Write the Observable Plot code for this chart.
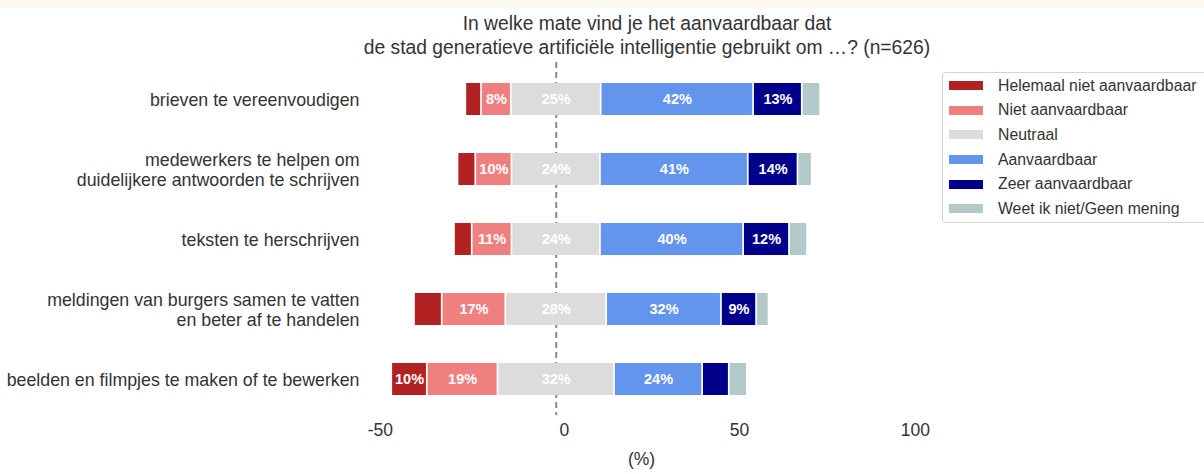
<!DOCTYPE html>
<html>
<head>
<meta charset="utf-8">
<script src="https://cdn.jsdelivr.net/npm/d3@7"></script>
<script src="https://cdn.jsdelivr.net/npm/@observablehq/plot@0.6"></script>
<style>
  body { margin: 0; background: #fff; font-family: "Liberation Sans", Arial, sans-serif; color: #333; }
  #wrap { position: relative; width: 1204px; height: 474px; overflow: hidden; background: #fff; }
  #band { height: 7px; background: #fdf9f0; }
  #title { height: 51px; box-sizing: border-box; padding: 5px 0 0 90px; text-align: center; font-size: 19.3px; line-height: 24px; color: #333; }
  #chart svg { display: block; }
  #legend { position: absolute; left: 942px; top: 72px; width: 290px; height: 151px; box-sizing: border-box;
            border: 1px solid #d4d4d4; border-radius: 4px; background: #fff; padding-top: 0.5px; }
  .item { display: flex; align-items: center; height: 24.6px; font-size: 15.8px; color: #333; white-space: nowrap; }
  .sw { width: 34px; height: 9px; margin-left: 6px; margin-right: 15px; flex: none; }
</style>
</head>
<body>
<div id="wrap">
  <div id="band"></div>
  <div id="title">In welke mate vind je het aanvaardbaar dat<br>de stad generatieve artificiële intelligentie gebruikt om …? (n=626)</div>
  <div id="chart"></div>
  <div id="legend"></div>
</div>
<script>
// ---- data ----
const questions = [
  "brieven te vereenvoudigen",
  "medewerkers te helpen om\nduidelijkere antwoorden te schrijven",
  "teksten te herschrijven",
  "meldingen van burgers samen te vatten\nen beter af te handelen",
  "beelden en filmpjes te maken of te bewerken"
];
const answers = ["Helemaal niet aanvaardbaar", "Niet aanvaardbaar", "Neutraal", "Aanvaardbaar", "Zeer aanvaardbaar", "Weet ik niet/Geen mening"];
const answerColors = ["#b22222", "#f08080", "#dcdcdc", "#6495ed", "#00008b", "#b4c9c9"];

const helemaalNiet = [4.4, 5.0, 5.0, 7.8, 10.0];
const nietAanv     = [8.4, 10.2, 11.2, 17.9, 19.9];
const neutraal     = [25.3, 24.9, 24.9, 28.4, 32.8];
const aanvaardbaar = [42.9, 41.6, 40.3, 32.3, 24.8];
const zeerAanv     = [13.7, 14.0, 12.9, 9.9, 7.5];
const weetNiet     = [5.2, 4.0, 5.1, 3.5, 5.1];

const tickValues = [-49.5, 2.3, 51.6, 101.1];
const tickLabels = ["-50", "0", "50", "100"];
const axisLabel = "(%)";

// ---- build diverging stacks ----
const series = [helemaalNiet, nietAanv, neutraal, aanvaardbaar, zeerAanv, weetNiet];
const segs = [];
questions.forEach((q, i) => {
  let x = -(helemaalNiet[i] + nietAanv[i] + neutraal[i] / 2);
  series.forEach((s, j) => {
    segs.push({q, answer: answers[j], value: s[i], x1: x, x2: x + s[i]});
    x += s[i];
  });
});

const chart = Plot.plot({
  width: 1204,
  height: 416,
  marginTop: 4,
  marginBottom: 59,
  marginLeft: 371,
  marginRight: 293,
  x: {domain: [-52, 100], axis: null},
  y: {domain: questions, axis: null, paddingInner: 0.545, paddingOuter: 0.2725},
  color: {domain: answers, range: answerColors},
  style: {fontFamily: "'Liberation Sans', Arial, sans-serif", background: "transparent", color: "#333"},
  marks: [
    Plot.ruleX([0], {stroke: "#8a8a8a", strokeWidth: 2, strokeDasharray: "6,4"}),
    Plot.barX(segs, {x1: "x1", x2: "x2", y: "q", fill: "answer", insetLeft: 0.85, insetRight: 0.85}),
    Plot.text(segs.filter(d => Math.floor(d.value) >= 8), {
      x: d => (d.x1 + d.x2) / 2, y: "q", text: d => Math.floor(d.value) + "%",
      fill: "white", fontWeight: "bold", fontSize: 14.5
    }),
    Plot.text(questions, {y: d => d, text: d => d, frameAnchor: "left", textAnchor: "end", dx: -12,
      fontSize: 17.8, lineHeight: 1.12, fill: "#333"}),
    Plot.text(tickLabels, {x: (d, i) => tickValues[i], text: d => d, frameAnchor: "bottom", dy: 20,
      fontSize: 17.5, fill: "#333"}),
    Plot.text([axisLabel], {text: d => d, frameAnchor: "bottom", dy: 49, fontSize: 17.5, fill: "#333"})
  ]
});
document.getElementById("chart").appendChild(chart);

// ---- legend ----
const legend = document.getElementById("legend");
answers.forEach((a, i) => {
  const row = document.createElement("div");
  row.className = "item";
  const sw = document.createElement("span");
  sw.className = "sw";
  sw.style.background = answerColors[i];
  const t = document.createElement("span");
  t.textContent = a;
  row.appendChild(sw);
  row.appendChild(t);
  legend.appendChild(row);
});
</script>
</body>
</html>
